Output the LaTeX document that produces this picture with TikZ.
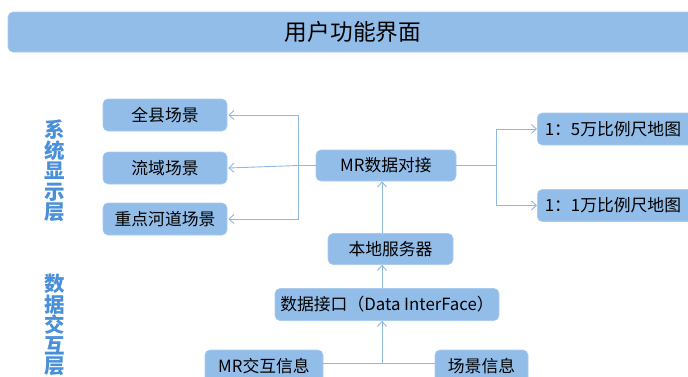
\documentclass[tikz,border=0pt]{standalone}
\usepackage{fontspec}
\setmainfont{Noto Sans CJK SC}
\usetikzlibrary{arrows.meta,calc}
\definecolor{boxfill}{HTML}{92BDE8}
\definecolor{boxline}{HTML}{A9CBEE}
\definecolor{wire}{HTML}{8DB8E0}
\definecolor{layerblue}{HTML}{4A90D9}
\tikzset{
  box/.style={draw=boxline, line width=0.6pt, fill=boxfill, rounded corners=5pt,
    minimum height=32pt, inner sep=0pt, font=\fontsize{16.8}{19}\selectfont, text=black},
  arr/.style={draw=wire, line width=0.9pt, -{Straight Barb[length=5pt,width=9pt]}},
  wireline/.style={draw=wire, line width=0.9pt},
  layer/.style={text=layerblue, font=\fontsize{20.5}{20.5}\selectfont\bfseries, align=center, inner sep=0pt}
}
\begin{document}
\begin{tikzpicture}[x=1pt,y=-1pt]
\useasboundingbox (0,0) rectangle (688,376);
\clip (0,0) rectangle (688,376);
% title
\node[box, minimum width=690pt, minimum height=40pt, font=\fontsize{22.7}{25}\selectfont] (title) at (353,32) {用户功能界面};
% layer labels
\node[layer] (l1) at (55,171) {系\\统\\显\\示\\层};
\node[layer] (l2) at (55,325) {数\\据\\交\\互\\层};
% left boxes
\node[box, minimum width=124pt] (n1) at (165,115) {全县场景};
\node[box, minimum width=124pt] (n2) at (165,168) {流域场景};
\node[box, minimum width=124pt] (n3) at (165,219) {重点河道场景};
% center
\node[box, minimum width=140pt, minimum height=31pt] (mr) at (386,165.5) {MR数据对接};
\node[box, minimum width=125pt, minimum height=31pt] (srv) at (390.5,249) {本地服务器};
\node[box, minimum width=224pt, minimum height=32pt] (di) at (387,304.5) {数据接口（Data InterFace）};
\node[box, minimum width=118pt] (mri) at (264,366) {MR交互信息};
\node[box, minimum width=93pt] (sc) at (481.5,366) {场景信息};
% right boxes
\node[box, minimum width=170pt, anchor=west, align=left, text width=155pt] (m1) at (537,129) {1：5万比例尺地图};
\node[box, minimum width=170pt, anchor=west, align=left, text width=155pt] (m2) at (537,205.5) {1：1万比例尺地图};
% connectors
\coordinate (lv) at (298,165.5);
\coordinate (rv) at (496,165.5);
\coordinate (ax) at (382,0);
\coordinate (j) at (382,363);
\draw[arr] (mr.west) -- (lv) |- ($(n1.east)+(1,0)$);
\draw[arr] (lv) -- ($(n2.east)+(1,0)$ |- lv);
\draw[arr] (lv) |- ($(n3.east)+(1,0)$);
\draw[arr] (mr.east) -- (rv) |- (m1.west);
\draw[arr] (rv) |- (m2.west);
\draw[arr] (srv.north -| ax) -- (mr.south -| ax);
\draw[arr] (di.north -| ax) -- (srv.south -| ax);
\draw[wireline] (mri.east |- j) -- (sc.west |- j);
\draw[arr] (j) -- (di.south -| ax);
\end{tikzpicture}
\end{document}
